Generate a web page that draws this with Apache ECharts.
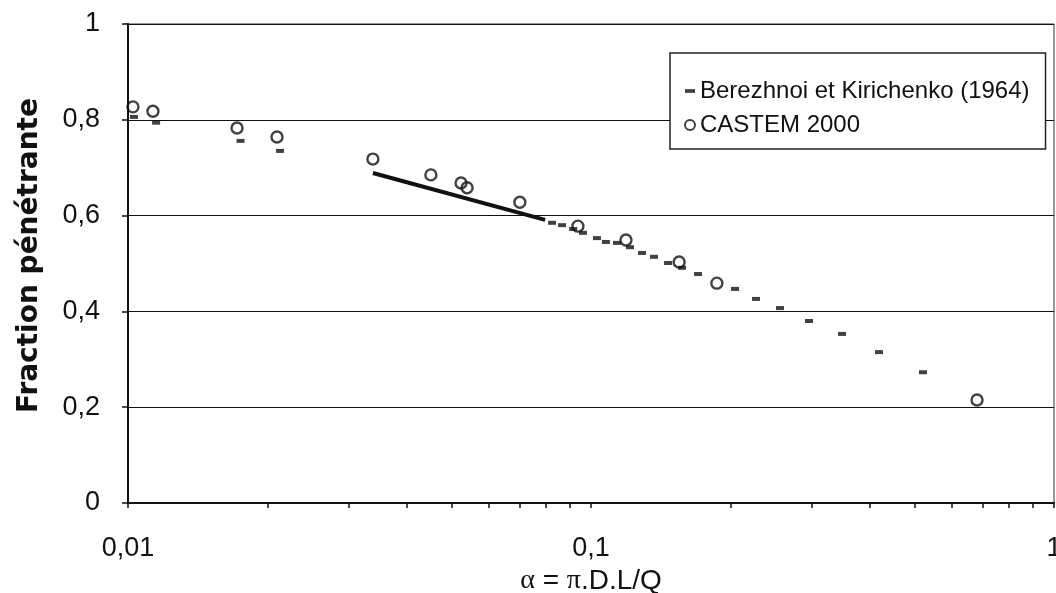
<!DOCTYPE html>
<html>
<head>
<meta charset="utf-8">
<script src="https://cdn.jsdelivr.net/npm/echarts@6/dist/echarts.min.js"></script>
<style>
html,body{margin:0;padding:0;background:#fff;}
#chart{width:1056px;height:593px;}
</style>
</head>
<body>
<div id="chart"></div>
<script>
// Berezhnoi et Kirichenko (1964) — individual dash markers
var berezhnoiX = [0.0103, 0.0115, 0.0175, 0.0213, 0.0824, 0.0866, 0.0915, 0.0961, 0.103, 0.1077, 0.1138, 0.1214, 0.1289, 0.1368, 0.1467, 0.1573, 0.1703, 0.2047, 0.2272, 0.256, 0.2957, 0.3485, 0.4188, 0.5213];
var berezhnoiY = [0.806, 0.794, 0.756, 0.735, 0.585, 0.580, 0.572, 0.564, 0.553, 0.545, 0.543, 0.534, 0.522, 0.514, 0.501, 0.491, 0.478, 0.447, 0.426, 0.407, 0.380, 0.353, 0.315, 0.273];
// Berezhnoi dense segment (drawn as a solid line)
var berezhnoiLineX = [0.0338, 0.0796];
var berezhnoiLineY = [0.689, 0.591];
// CASTEM 2000
var castemX = [0.01025, 0.01132, 0.0172, 0.02098, 0.0338, 0.0451, 0.0524, 0.054, 0.0702, 0.0937, 0.119, 0.155, 0.187, 0.682];
var castemY = [0.827, 0.818, 0.783, 0.764, 0.718, 0.685, 0.668, 0.658, 0.628, 0.578, 0.549, 0.503, 0.459, 0.215];
// Axis ticks
var xDecades = [0.01, 0.1];
var xMultipliers = [1, 2, 3, 4, 5, 6, 7, 8, 9];
var yTicks = [0, 0.2, 0.4, 0.6, 0.8, 1];

var nameB = 'Berezhnoi et Kirichenko (1964)';
var nameC = 'CASTEM 2000';

function zip(xs, ys) { return xs.map(function (x, i) { return [x, ys[i]]; }); }
var xTickValues = [];
xDecades.forEach(function (d) { xMultipliers.forEach(function (m) { xTickValues.push(+(d * m).toPrecision(6)); }); });
xTickValues.push(1);

function fmt(v) { return String(+(+v).toPrecision(6)).replace('.', ','); }

var chart = echarts.init(document.getElementById('chart'), null, { renderer: 'canvas' });
chart.setOption({
  animation: false,
  backgroundColor: '#fff',
  textStyle: { fontFamily: 'Liberation Sans' },
  grid: { left: 128, right: 2, top: 24, bottom: 90, outerBoundsMode: 'none', containLabel: false, show: true, borderColor: '#333', borderWidth: 1, backgroundColor: 'transparent' },
  legend: {
    orient: 'vertical',
    left: 670, top: 53,
    padding: [26, 16, 12, 14],
    itemGap: 10,
    itemWidth: 10, itemHeight: 10,
    borderColor: '#222', borderWidth: 1.5,
    backgroundColor: '#fff',
    textStyle: { fontSize: 24, color: '#111', fontFamily: 'Liberation Sans' },
    data: [
      { name: nameB, icon: 'path://M0,0h8v3h-8z', itemStyle: { color: '#111' } },
      { name: nameC, icon: 'circle', itemStyle: { color: '#fff', borderColor: '#111', borderWidth: 2 } }
    ]
  },
  xAxis: {
    type: 'log', logBase: 10, min: 0.01, max: 1,
    name: '{g|α} = {g|π}.D.L/Q',
    nameLocation: 'middle', nameGap: 61,
    nameTextStyle: { fontSize: 28, color: '#111', fontFamily: 'Liberation Sans', rich: { g: { fontSize: 28, fontFamily: 'Liberation Serif', color: '#111' } } },
    axisLine: { show: true, lineStyle: { color: '#111', width: 2 } },
    axisTick: { show: true, inside: false, length: 5, customValues: xTickValues, lineStyle: { color: '#111', width: 1.5 } },
    axisLabel: { fontSize: 27, color: '#111', margin: 32, formatter: fmt },
    splitLine: { show: false },
    minorTick: { show: false }
  },
  yAxis: {
    type: 'value', min: 0, max: 1, interval: 0.2,
    name: 'Fraction pénétrante',
    nameLocation: 'middle', nameGap: 84,
    nameTextStyle: { fontSize: 28, fontWeight: 'bold', color: '#111', fontFamily: 'DejaVu Sans', padding: [0, 0, 0, 16] },
    axisLine: { show: true, lineStyle: { color: '#111', width: 2 } },
    axisTick: { show: true, inside: false, length: 6, lineStyle: { color: '#111', width: 1.5 } },
    axisLabel: { fontSize: 27, color: '#111', margin: 28, formatter: fmt },
    splitLine: { show: true, lineStyle: { color: '#111', width: 1.2 } }
  },
  series: [
    {
      name: 'berezhnoi-segment', type: 'line', data: zip(berezhnoiLineX, berezhnoiLineY),
      showSymbol: false, symbol: 'none', lineStyle: { color: '#111', width: 4 }, z: 2, silent: true
    },
    {
      name: nameB, type: 'scatter', data: zip(berezhnoiX, berezhnoiY),
      symbol: 'rect', symbolSize: [8, 4], itemStyle: { color: '#111' }, z: 3
    },
    {
      name: nameC, type: 'scatter', data: zip(castemX, castemY),
      symbol: 'circle', symbolSize: 11,
      itemStyle: { color: 'rgba(255,255,255,0)', borderColor: '#111', borderWidth: 2.4 }, z: 4
    }
  ]
});
</script>
</body>
</html>
